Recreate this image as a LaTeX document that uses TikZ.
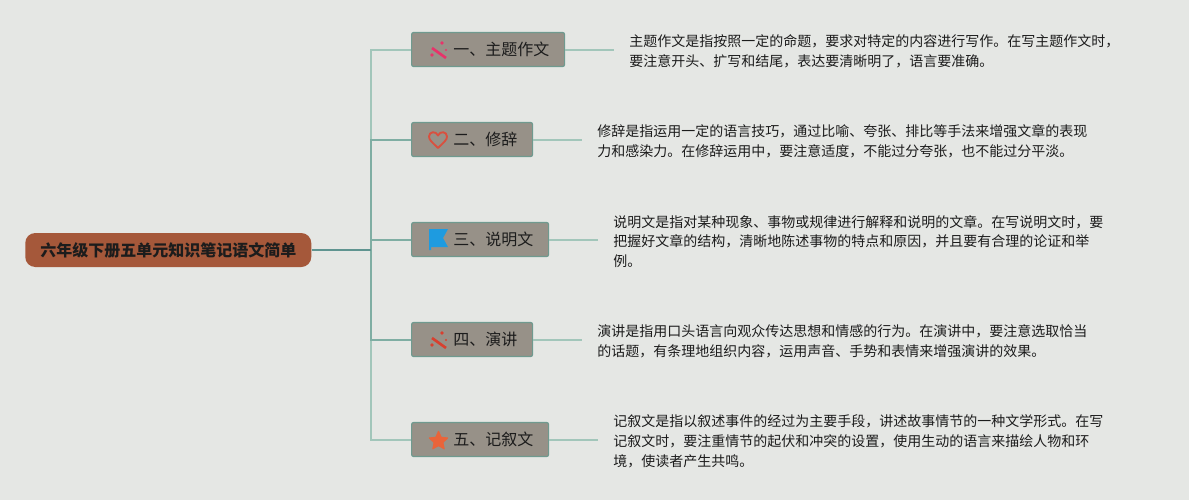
\documentclass[tikz,border=0pt]{standalone}
\usepackage{fontspec}
\setmainfont{Noto Sans CJK SC}
\usetikzlibrary{shapes.geometric}

\definecolor{paper}{HTML}{E5E7E4}
\definecolor{rootfill}{HTML}{A5583A}
\definecolor{topicfill}{HTML}{979188}
\definecolor{topicline}{HTML}{6F9A8F}
\definecolor{linelight}{HTML}{A2C6BA}
\definecolor{linemid}{HTML}{7FAEA3}
\definecolor{linedark}{HTML}{5F9490}
\definecolor{inkdark}{HTML}{1C1C1C}
\definecolor{wandpink}{HTML}{E8336A}
\definecolor{wandred}{HTML}{D8402F}
\definecolor{heartred}{HTML}{D9503F}
\definecolor{flagblue}{HTML}{1E9BE0}
\definecolor{starorange}{HTML}{E9643A}

\tikzset{
  root/.style={fill=rootfill, rounded corners=7.5pt, anchor=west, minimum height=25.5pt,
    minimum width=214.5pt, inner sep=0pt, text=inkdark, font=\fontsize{12}{14}\selectfont\bfseries},
  topic/.style={draw=topicline, line width=.9pt, fill=topicfill, rounded corners=1.5pt, anchor=west,
    minimum height=25.5pt, inner xsep=11.25pt, inner ysep=0pt, text=inkdark,
    font=\fontsize{12}{14}\selectfont},
  note/.style={anchor=west, align=left, inner xsep=11.25pt, inner ysep=0pt, text=inkdark,
    font=\fontsize{10.5}{14.8}\selectfont},
  branch/.style={line width=1.5pt, linelight},
  trunk/.style={line width=1.5pt, linemid},
}
\newcommand{\topictext}[1]{\hspace*{20pt}\raisebox{-1.5pt}{#1}\hspace*{.25pt}}
\newcommand{\wandicon}[2]{%
  \draw[#1, line width=2pt] (432,#2+48) -- (446,#2+58);
  \fill[#1] (442,#2+43) circle (1.4pt);
  \fill[#1] (432,#2+55) circle (1.4pt);
  \fill[#1] (446,#2+50) circle (.8pt);
}

\begin{document}
\begin{tikzpicture}[x=.75pt,y=-.75pt]
\useasboundingbox (0,0) rectangle (1189,500);
\fill[paper] (0,0) rectangle (1189,500);

\coordinate (hub) at (371,250);

\node[root] (title) at (25,250) {\raisebox{-.75pt}{六年级下册五单元知识笔记语文简单}};

\node[topic] (one) at (411,49.5) {\topictext{一、主题作文}};
\node[note] (oneNote) at (614,51) {主题作文是指按照一定的命题，要求对特定的内容进行写作。在写主题作文时，\\要注意开头、扩写和结尾，表达要清晰明了，语言要准确。};

\node[topic] (two) at (411,139.5) {\topictext{二、修辞}};
\node[note] (twoNote) at (582,141) {修辞是指运用一定的语言技巧，通过比喻、夸张、排比等手法来增强文章的表现\\力和感染力。在修辞运用中，要注意适度，不能过分夸张，也不能过分平淡。};

\node[topic] (three) at (411,239.5) {\topictext{三、说明文}};
\node[note] (threeNote) at (598,241.5) {说明文是指对某种现象、事物或规律进行解释和说明的文章。在写说明文时，要\\把握好文章的结构，清晰地陈述事物的特点和原因，并且要有合理的论证和举\\例。};

\node[topic] (four) at (411,339.5) {\topictext{四、演讲}};
\node[note] (fourNote) at (582,341) {演讲是指用口头语言向观众传达思想和情感的行为。在演讲中，要注意选取恰当\\的话题，有条理地组织内容，运用声音、手势和表情来增强演讲的效果。};

\node[topic] (five) at (411,439.5) {\topictext{五、记叙文}};
\node[note] (fiveNote) at (598,441.5) {记叙文是指以叙述事件的经过为主要手段，讲述故事情节的一种文学形式。在写\\记叙文时，要注重情节的起伏和冲突的设置，使用生动的语言来描绘人物和环\\境，使读者产生共鸣。};

% trunk and branches
\draw[branch] (hub) |- (one);
\draw[branch] (hub) |- (five);
\draw[trunk] (hub) |- (two);
\draw[trunk] (hub) |- (four);
\draw[trunk] (hub) |- (three);
\draw[line width=1.5pt, linedark] (title) -- (hub);

\draw[branch] (one) -- (oneNote.west |- one);
\draw[branch] (two) -- (twoNote.west |- two);
\draw[branch] (three) -- (threeNote.west |- three);
\draw[branch] (four) -- (fourNote.west |- four);
\draw[branch] (five) -- (fiveNote.west |- five);

% icons
\wandicon{wandpink}{0}
\draw[heartred, line width=1.4pt, line join=round] (438,148) .. controls (432,142) and (429,140) .. (429,136.5)
  .. controls (429,131.5) and (436,130.5) .. (438,135.5)
  .. controls (440,130.5) and (447,131.5) .. (447,136.5)
  .. controls (447,140) and (444,142) .. (438,148) -- cycle;
\fill[flagblue] (429,229) -- (448,229) -- (443,238) -- (448,247) -- (431,247) -- (431,250) -- (429,250) -- cycle;
\wandicon{wandred}{290}
\node[star, star points=5, star point ratio=2.1, fill=starorange, draw=starorange, line join=round,
  line width=.8pt, inner sep=0pt, minimum size=14.5pt] (fiveStar) at (438.5,441) {};
\end{tikzpicture}
\end{document}
